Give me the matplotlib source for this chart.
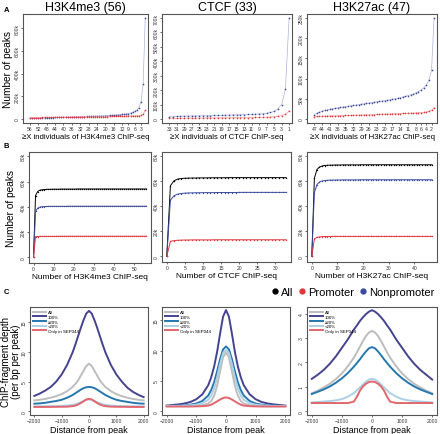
import numpy as np
import matplotlib.pyplot as plt
from matplotlib.lines import Line2D
from matplotlib.ticker import FuncFormatter

plt.rcParams['font.family'] = ['Liberation Sans', 'DejaVu Sans']

W, H = 440, 435

# ---- panel A: peaks found in >= X individuals (thousands), index = X - 1
A_NAMES = ['H3K4me3', 'CTCF', 'H3K27ac']
A_COUNTS = [56, 33, 47]
A_BLUE = [
    [890, 310, 150, 100, 78, 66, 58, 52, 48, 45, 42, 40, 38, 36, 35, 34, 32, 31, 30, 29,
     28, 27, 26, 25.5, 25, 24, 23.5, 23, 22, 21.5, 21, 20, 19.5, 19, 18, 17.5, 17, 16.5,
     16, 15, 14.5, 14, 13.5, 13, 12, 11.5, 11, 10.5, 10, 9.5, 9, 8, 7.5, 7, 6, 5],
    [700, 205, 100, 70, 52, 45, 40, 37, 35, 33.5, 32, 31, 30, 29.5, 29, 28.5, 27, 26.5,
     26, 25.5, 25, 24, 23.5, 23, 22, 21.5, 21, 20, 19.5, 19, 18, 17, 15],
    [250, 121, 96, 84, 77, 72, 68, 65, 62, 60, 58, 56, 54.5, 53, 51.5, 50, 49, 47.5, 46.5,
     45.5, 44.5, 43.5, 42.5, 41.5, 40.5, 39.5, 38.5, 37.5, 36.5, 35.5, 34.5, 33.5, 32.5,
     31.5, 30.5, 29.5, 28.5, 27.5, 26.5, 25.5, 24, 22.5, 21, 19, 17, 14, 10],
]
A_RED = [
    [75, 40, 33, 30, 29, 28, 27.5, 27, 26.5, 26, 25.5, 25, 24.5, 24, 23.5, 23, 22.5, 22,
     21.5, 21, 20.5, 20, 19.8, 19.5, 19.2, 19, 18.8, 18.5, 18.2, 18, 17.8, 17.5, 17.2, 17,
     16.8, 16.5, 16.2, 16, 15.8, 15.5, 15.2, 15, 14.8, 14.5, 14.2, 14, 13.8, 13.5, 13.2,
     13, 12.8, 12.5, 12.2, 12, 11.5, 11],
    [55, 32, 24, 19, 16, 14, 12.5, 11.5, 11, 10.5, 10, 9.8, 9.5, 9.2, 9, 8.8, 8.5, 8.2, 8,
     7.8, 7.5, 7.2, 7, 6.8, 6.5, 6.2, 6, 5.8, 5.5, 5.2, 5, 4.8, 4.5],
    [28, 22, 19, 17.5, 16.5, 16, 15.5, 15, 14.8, 14.5, 14.2, 14, 13.8, 13.5, 13.2, 13, 12.8,
     12.5, 12.3, 12, 11.8, 11.5, 11.3, 11, 10.8, 10.5, 10.3, 10, 9.8, 9.6, 9.4, 9.2, 9, 8.8,
     8.6, 8.4, 8.2, 8, 7.8, 7.6, 7.4, 7.2, 7, 6.8, 6.6, 6.3, 6],
]
A_XTICKS = [
    [56, 52, 48, 44, 40, 36, 32, 28, 24, 20, 16, 12, 9, 6, 3],
    [33, 31, 29, 27, 25, 23, 21, 19, 17, 15, 13, 11, 9, 7, 5, 3, 1],
    [47, 44, 41, 38, 35, 32, 29, 26, 23, 20, 17, 14, 11, 8, 6, 4, 2],
]
A_YTICKS = [[0, 200, 400, 600, 800], list(range(0, 701, 100)), [0, 50, 100, 150, 200, 250]]

# ---- panel B: cumulative peaks vs number of ChIP-seq (thousands), index = n
B_ALL = [
    [0, 49, 52, 53.2, 53.5, 53.7, 53.8, 53.9, 53.9, 54.0, 54.0, 54.0, 54.0, 54.1, 54.1,
     54.1, 54.1, 54.1, 54.1, 54.1, 54.1, 54.1, 54.2, 54.2, 54.2, 54.2, 54.2, 54.2, 54.2,
     54.2, 54.2, 54.2, 54.2, 54.2, 54.2, 54.2, 54.2, 54.2, 54.2, 54.2, 54.2, 54.2, 54.2,
     54.2, 54.2, 54.2, 54.2, 54.2, 54.2, 54.2, 54.2, 54.2, 54.2, 54.2, 54.2, 54.2, 54.2],
    [0, 56.5, 60.5, 61.8, 62.3, 62.5, 62.6, 62.7, 62.7, 62.8, 62.8, 62.8, 62.9, 62.9, 62.9,
     62.9, 62.9, 63.0, 63.0, 63.0, 63.0, 63.0, 63.0, 63.0, 63.0, 63.0, 63.0, 63.0, 63.0,
     63.0, 63.0, 63.0, 63.0, 63.0],
    [0, 62.5, 69.5, 71.5, 72.3, 72.7, 72.9, 73.0, 73.0, 73.1, 73.1, 73.1, 73.2, 73.2, 73.2,
     73.2, 73.2, 73.2, 73.2, 73.3, 73.3, 73.3, 73.3, 73.3, 73.3, 73.3, 73.3, 73.3, 73.3,
     73.3, 73.3, 73.3, 73.3, 73.3, 73.3, 73.3, 73.3, 73.3, 73.3, 73.3, 73.3, 73.3, 73.3,
     73.3, 73.3, 73.3, 73.3, 73.3],
]
B_NONPROM = [
    [0, 36.5, 38.8, 39.8, 40.1, 40.2, 40.3, 40.3, 40.4, 40.4, 40.4, 40.4, 40.4, 40.4, 40.4,
     40.4, 40.4, 40.5, 40.5, 40.5, 40.5, 40.5, 40.5, 40.5, 40.5, 40.5, 40.5, 40.5, 40.5,
     40.5, 40.5, 40.5, 40.5, 40.5, 40.5, 40.5, 40.5, 40.5, 40.5, 40.5, 40.5, 40.5, 40.5,
     40.5, 40.5, 40.5, 40.5, 40.5, 40.5, 40.5, 40.5, 40.5, 40.5, 40.5, 40.5, 40.5, 40.5],
    [0, 45, 48.5, 49.8, 50.3, 50.6, 50.7, 50.8, 50.9, 50.9, 51.0, 51.0, 51.0, 51.0, 51.1,
     51.1, 51.1, 51.1, 51.1, 51.1, 51.2, 51.2, 51.2, 51.2, 51.2, 51.2, 51.2, 51.2, 51.2,
     51.2, 51.2, 51.2, 51.2, 51.2],
    [0, 51, 57.5, 59.5, 60.3, 60.7, 60.9, 61.0, 61.0, 61.1, 61.1, 61.1, 61.2, 61.2, 61.2,
     61.2, 61.2, 61.2, 61.2, 61.3, 61.3, 61.3, 61.3, 61.3, 61.3, 61.3, 61.3, 61.3, 61.3,
     61.3, 61.3, 61.3, 61.3, 61.3, 61.3, 61.3, 61.3, 61.3, 61.3, 61.3, 61.3, 61.3, 61.3,
     61.3, 61.3, 61.3, 61.3, 61.3],
]
B_PROM = [
    [0, 16.4, 16.5, 16.6, 16.6, 16.6, 16.6, 16.6, 16.6, 16.6, 16.6, 16.6, 16.7, 16.7, 16.7,
     16.7, 16.7, 16.7, 16.7, 16.7, 16.7, 16.7, 16.7, 16.7, 16.7, 16.7, 16.7, 16.7, 16.7,
     16.7, 16.7, 16.7, 16.7, 16.7, 16.7, 16.7, 16.7, 16.7, 16.7, 16.7, 16.7, 16.7, 16.7,
     16.7, 16.7, 16.7, 16.7, 16.7, 16.7, 16.7, 16.7, 16.7, 16.7, 16.7, 16.7, 16.7, 16.7],
    [0, 12, 12.6, 12.9, 13.0, 13.1, 13.1, 13.2, 13.2, 13.2, 13.2, 13.2, 13.2, 13.3, 13.3,
     13.3, 13.3, 13.3, 13.3, 13.3, 13.3, 13.3, 13.3, 13.3, 13.3, 13.3, 13.3, 13.3, 13.3,
     13.3, 13.3, 13.3, 13.3, 13.3],
    [0, 14, 15.2, 15.6, 15.8, 15.9, 15.9, 15.9, 16.0, 16.0, 16.0, 16.0, 16.0, 16.0, 16.0,
     16.0, 16.0, 16.0, 16.0, 16.0, 16.0, 16.0, 16.0, 16.0, 16.0, 16.0, 16.0, 16.0, 16.0,
     16.0, 16.0, 16.0, 16.0, 16.0, 16.0, 16.0, 16.0, 16.0, 16.0, 16.0, 16.0, 16.0, 16.0,
     16.0, 16.0, 16.0, 16.0, 16.0],
]
B_XTICKS = [[0, 10, 20, 30, 40, 50], [0, 5, 10, 15, 20, 25, 30], [0, 10, 20, 30, 40]]

# ---- panel C: ChIP-fragment depth profiles
C_DIST = [-2000, -1800, -1600, -1400, -1200, -1000, -800, -600, -500, -400, -300, -200, -100,
          0, 100, 200, 300, 400, 500, 600, 800, 1000, 1200, 1400, 1600, 1800, 2000]
C_LABELS = ['All', '100%', '\u226520%', '<20%', 'Only in SEP044']
C_COLORS = ['#bdbdbd', '#45438f', '#2577b0', '#abd0e6', '#e2666e']
C_DATA = [
    [  # H3K4me3
        [1.85, 1.95, 2.1, 2.3, 2.55, 2.9, 3.4, 4.1, 4.6, 5.2, 6.0, 6.8, 7.6, 8.0, 7.6, 6.8,
         6.0, 5.2, 4.6, 4.1, 3.4, 2.9, 2.55, 2.3, 2.1, 1.95, 1.85],
        [2.6, 3.0, 3.5, 4.1, 5.0, 6.2, 7.8, 9.9, 11.2, 12.6, 14.0, 15.3, 16.4, 16.85, 16.4,
         15.3, 14.0, 12.6, 11.2, 9.9, 7.8, 6.2, 5.0, 4.0, 3.3, 2.8, 2.4],
        [1.3, 1.35, 1.45, 1.6, 1.75, 1.95, 2.3, 2.75, 3.05, 3.35, 3.65, 3.9, 4.05, 4.1, 4.05,
         3.9, 3.65, 3.35, 3.05, 2.75, 2.3, 1.95, 1.75, 1.6, 1.45, 1.35, 1.3],
        [0.85, 0.85, 0.86, 0.88, 0.9, 0.93, 0.98, 1.1, 1.2, 1.35, 1.55, 1.75, 1.95, 2.0, 1.95,
         1.75, 1.55, 1.35, 1.2, 1.1, 0.98, 0.93, 0.9, 0.88, 0.86, 0.85, 0.85],
        [0.75, 0.75, 0.75, 0.76, 0.77, 0.78, 0.8, 0.88, 0.98, 1.15, 1.4, 1.7, 2.0, 2.1, 2.0,
         1.7, 1.4, 1.15, 0.98, 0.88, 0.8, 0.78, 0.77, 0.76, 0.75, 0.75, 0.75],
    ],
    [  # CTCF
        [0.85, 0.85, 0.85, 0.85, 0.88, 0.9, 1.0, 1.3, 1.7, 2.6, 4.2, 6.6, 8.9, 9.7, 8.9, 6.6,
         4.2, 2.6, 1.7, 1.3, 1.0, 0.9, 0.88, 0.85, 0.85, 0.85, 0.85],
        [0.95, 1.05, 1.15, 1.3, 1.55, 2.0, 2.8, 4.3, 5.6, 7.4, 9.8, 12.8, 15.6, 16.7, 15.6,
         12.8, 9.8, 7.4, 5.6, 4.3, 2.8, 2.0, 1.55, 1.3, 1.15, 1.05, 0.95],
        [0.9, 0.9, 0.95, 1.0, 1.1, 1.3, 1.7, 2.6, 3.5, 4.8, 6.6, 8.6, 10.2, 10.7, 10.2, 8.6,
         6.6, 4.8, 3.5, 2.6, 1.7, 1.3, 1.1, 1.0, 0.95, 0.9, 0.9],
        [0.9, 0.9, 0.9, 0.95, 1.0, 1.1, 1.35, 1.9, 2.6, 3.8, 5.6, 7.8, 9.6, 10.1, 9.6, 7.8,
         5.6, 3.8, 2.6, 1.9, 1.35, 1.1, 1.0, 0.95, 0.9, 0.9, 0.9],
        [0.8, 0.8, 0.8, 0.8, 0.8, 0.82, 0.85, 0.95, 1.1, 1.35, 1.65, 1.95, 2.2, 2.3, 2.2, 1.95,
         1.65, 1.35, 1.1, 0.95, 0.85, 0.82, 0.8, 0.8, 0.8, 0.8, 0.8],
    ],
    [  # H3K27ac
        [0.74, 0.85, 0.98, 1.13, 1.32, 1.55, 1.85, 2.2, 2.42, 2.65, 2.88, 3.08, 3.23, 3.29,
         3.23, 3.08, 2.88, 2.65, 2.42, 2.2, 1.85, 1.55, 1.32, 1.13, 0.98, 0.85, 0.74],
        [1.33, 1.5, 1.7, 1.95, 2.25, 2.6, 2.95, 3.35, 3.52, 3.7, 3.85, 3.98, 4.08, 4.14, 4.08,
         3.98, 3.85, 3.7, 3.52, 3.35, 2.95, 2.6, 2.25, 1.95, 1.7, 1.5, 1.3],
        [0.71, 0.8, 0.9, 1.02, 1.17, 1.35, 1.57, 1.83, 1.98, 2.13, 2.3, 2.45, 2.58, 2.63, 2.58,
         2.45, 2.3, 2.13, 1.98, 1.83, 1.57, 1.35, 1.17, 1.02, 0.9, 0.8, 0.71],
        [0.37, 0.38, 0.4, 0.42, 0.45, 0.5, 0.6, 0.75, 0.86, 0.98, 1.1, 1.22, 1.3, 1.33, 1.3,
         1.22, 1.1, 0.98, 0.86, 0.75, 0.6, 0.5, 0.45, 0.42, 0.4, 0.38, 0.37],
        [0.34, 0.34, 0.34, 0.34, 0.34, 0.34, 0.34, 0.4, 0.6, 0.85, 1.02, 1.13, 1.2, 1.22, 1.2,
         1.13, 1.02, 0.85, 0.6, 0.4, 0.34, 0.34, 0.34, 0.34, 0.34, 0.34, 0.34],
    ],
]
C_YTICKS = [[0, 5, 10, 15], [0, 5, 10, 15], [0, 1, 2, 3, 4]]
C_YLIM = [(-0.6, 17.5), (-0.6, 17.2), (-0.15, 4.27)]

BLUE = '#3b4a9c'
RED = '#e0363a'
FRAME = '#555555'


def px_axes(fig, x0, y0, x1, y1):
    """axes from pixel box (top-left origin)"""
    return fig.add_axes([x0 / W, 1 - y1 / H, (x1 - x0) / W, (y1 - y0) / H])


def style(ax):
    for sp in ax.spines.values():
        sp.set_color(FRAME)
        sp.set_linewidth(0.8)
    ax.tick_params(labelsize=3.6, length=1.6, width=0.5, pad=0.8, colors='#333333')
    for lab in ax.get_yticklabels():
        lab.set_rotation(90)
        lab.set_va('center')


def ylab_at(ax, box, xpix):
    """put y label anchor at a pixel column"""
    ax.yaxis.set_label_coords((xpix - box[0]) / (box[2] - box[0]), 0.5)


kfmt = FuncFormatter(lambda v, p: '0' if v == 0 else '{}k'.format(int(v)))

fig = plt.figure(figsize=(W / 100, H / 100), dpi=100)

a_boxes = [(23, 15, 148, 124), (162, 15, 292, 124), (307, 15, 437, 124)]
b_boxes = [(29, 153, 151, 264), (162, 153, 291, 263), (307, 153, 437, 263)]
c_boxes = [(30, 308, 148, 416), (162, 308, 290, 416), (307, 308, 437, 416)]

for i in range(3):
    # A
    ax = px_axes(fig, *a_boxes[i])
    n = A_COUNTS[i]
    xs = np.arange(1, n + 1)
    ax.plot(xs, A_BLUE[i], '-', color='#aab2dc', lw=0.5)
    ax.plot(xs, A_BLUE[i], 'o', color=BLUE, ms=1.2, mew=0)
    ax.plot(xs, A_RED[i], '-', color='#f0a0a0', lw=0.5)
    ax.plot(xs, A_RED[i], 'o', color=RED, ms=1.2, mew=0)
    pad = 0.06 * (n - 1)
    ax.set_xlim(n + pad, 1 - pad * 0.4)
    top = max(A_BLUE[i])
    ax.set_ylim(-0.04 * top, 1.04 * top)
    ax.set_xticks(A_XTICKS[i])
    ax.set_xticklabels([str(t) for t in A_XTICKS[i]])
    ax.set_yticks(A_YTICKS[i])
    ax.yaxis.set_major_formatter(kfmt)
    style(ax)
    ax.set_title('{} ({})'.format(A_NAMES[i], n), fontsize=9, pad=3)
    ax.set_xlabel('\u2265X individuals of {} ChIP-seq'.format(A_NAMES[i]),
                  fontsize=5.6, labelpad=1.5)
    if i == 0:
        ax.set_ylabel('Number of peaks', fontsize=7.3)
        ylab_at(ax, a_boxes[i], 13)

    # B
    ax = px_axes(fig, *b_boxes[i])
    for vals, col in [(B_ALL[i], 'black'), (B_NONPROM[i], BLUE), (B_PROM[i], RED)]:
        xb = np.arange(len(vals))
        ax.plot(xb, vals, '-', color=col, lw=0.7)
        ax.plot(xb, vals, 'o', color=col, ms=1.0, mew=0)
    ax.set_xlim(-0.04 * n, 1.04 * n)
    ax.set_ylim(-4.5, 83.5)
    ax.set_xticks(B_XTICKS[i])
    ax.set_yticks([0, 20, 40, 60, 80])
    ax.yaxis.set_major_formatter(kfmt)
    style(ax)
    ax.set_xlabel('Number of {} ChIP-seq'.format(A_NAMES[i]), fontsize=6, labelpad=1.5)
    if i == 0:
        ax.set_ylabel('Number of peaks', fontsize=7.3)
        ylab_at(ax, b_boxes[i], 16)

    # C
    ax = px_axes(fig, *c_boxes[i])
    for vals, col, lab in zip(C_DATA[i], C_COLORS, C_LABELS):
        ax.plot(C_DIST, vals, '-', color=col, lw=1.4, label=lab)
    ax.set_xlim(-2160, 2160)
    ax.set_ylim(*C_YLIM[i])
    ax.set_xticks([-2000, -1000, 0, 1000, 2000])
    ax.set_yticks(C_YTICKS[i])
    style(ax)
    ax.legend(loc='upper left', fontsize=3.2, frameon=False, handlelength=2.8,
              labelspacing=0.12, borderaxespad=0.3, handletextpad=0.5)
    ax.set_xlabel('Distance from peak', fontsize=6.5, labelpad=1)
    if i == 0:
        ax.set_ylabel('ChIP-fragment depth\n(per bp per peak)', fontsize=7,
                      linespacing=1.0, va='center')
        ylab_at(ax, c_boxes[i], 11)

handles = [Line2D([], [], marker='o', ls='', color=c, ms=3.5)
           for c in ['black', RED, BLUE]]
fig.legend(handles, ['All', 'Promoter', 'Nonpromoter'], loc='center right',
           bbox_to_anchor=(440 / W, 1 - 293 / H), ncol=3, frameon=False, fontsize=8,
           handletextpad=0.05, columnspacing=0.3, handlelength=1.0, borderpad=0)

for letter, yy in [('A', 10), ('B', 146), ('C', 292)]:
    fig.text(4 / W, 1 - yy / H, letter, fontsize=5.5, fontweight='bold', va='center')

fig.savefig('out.png', dpi=100)
